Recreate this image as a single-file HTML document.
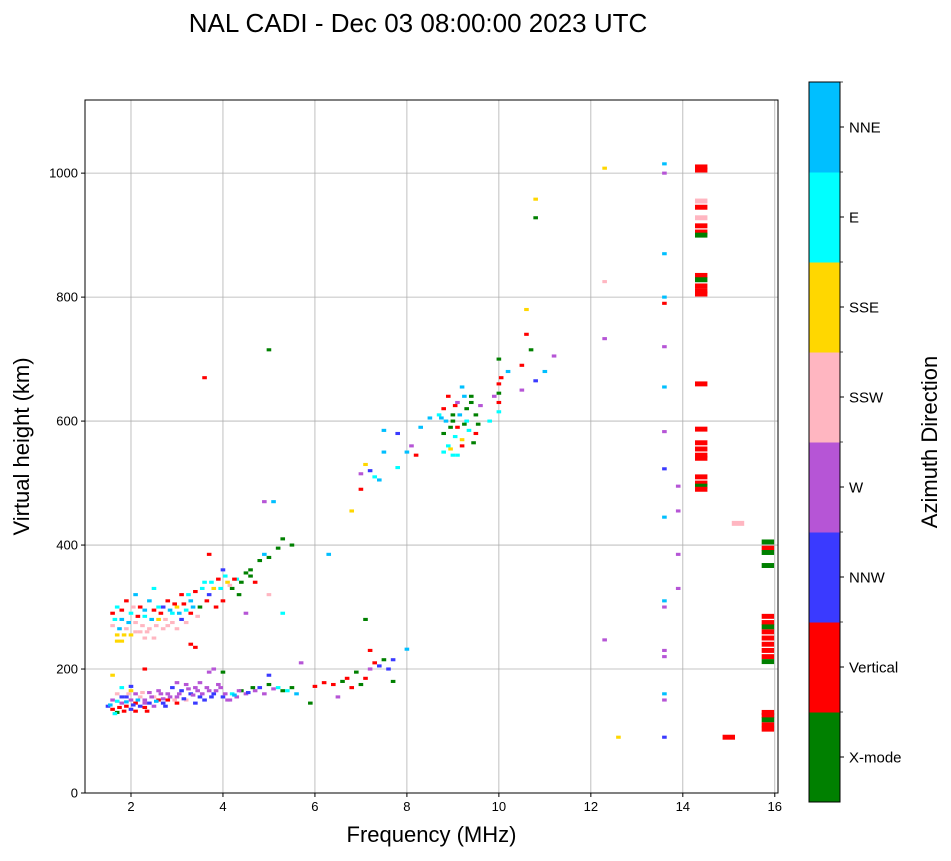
<!DOCTYPE html>
<html><head><meta charset="utf-8"><style>
body{margin:0;background:#fff;font-family:"Liberation Sans",sans-serif}
svg text{font-family:"Liberation Sans",sans-serif}
</style></head><body>
<svg id="chart" width="951" height="856" xmlns="http://www.w3.org/2000/svg"></svg>
<script>
const categories=["X-mode","Vertical","NNW","W","SSW","SSE","E","NNE"];
const colors=["#008000","#ff0000","#3a3aff","#b655d6","#ffb6c1","#ffd700","#00ffff","#00bfff"];
const xTicks=[2,4,6,8,10,12,14,16];
const yTicks=[0,200,400,600,800,1000];
const freqs=[1.5,1.6,1.6,1.7,1.7,1.8,1.8,1.9,1.9,2.0,2.0,2.0,2.1,2.1,2.2,2.2,2.3,2.3,2.4,2.4,2.5,2.5,2.6,2.6,2.7,2.8,2.8,2.9,3.0,3.0,3.1,3.2,3.2,3.3,3.4,3.5,3.5,3.6,3.7,3.8,3.9,4.0,4.1,4.2,4.3,4.4,4.5,4.7,4.8,5.0,5.0,5.2,5.3,5.5,5.7,5.9,6.0,6.2,6.4,6.5,6.6,6.7,6.8,6.9,7.0,7.1,7.2,7.3,7.4,7.5,7.6,7.7,7.7,7.2,7.1,1.6,2.3,3.8,4.0,
1.6,1.6,1.7,1.7,1.8,1.8,1.9,1.9,2.0,2.0,2.1,2.1,2.2,2.2,2.3,2.3,2.4,2.4,2.5,2.5,2.6,2.7,2.8,2.8,2.9,3.0,3.0,3.1,3.1,3.2,3.3,3.3,3.4,3.5,3.6,3.7,3.8,3.9,4.0,4.0,4.1,4.2,4.3,4.4,4.5,4.6,4.8,4.9,5.0,5.2,5.3,5.5,4.9,5.1,3.6,5.0,5.3,5.0,4.5,3.7,6.3,
6.8,7.0,7.0,7.1,7.2,7.3,7.4,7.5,7.5,7.8,7.8,8.0,8.1,8.3,8.2,8.5,8.7,8.8,8.9,8.8,8.9,9.0,9.0,9.1,9.1,9.2,9.2,9.3,9.3,9.4,9.5,9.5,9.6,9.8,9.9,10.0,10.0,10.0,10.2,10.5,10.5,10.6,10.6,10.7,10.8,11.0,11.2,10.8,10.8,8.0,8.8,9.0,
12.3,12.3,12.3,12.3,12.6,13.6,13.6,13.6,13.6,13.6,13.6,13.6,13.6,13.6,13.6,13.6,13.6,13.6,13.6,13.6,13.6,13.6,13.9,13.9,13.9,13.9,
14.4,14.4,14.4,14.4,14.4,14.4,14.4,14.4,14.4,14.4,14.4,14.4,14.4,14.4,14.4,14.4,14.4,14.4,14.4,14.4,14.4,14.4,14.4,
15.0,15.2,15.85,15.85,15.85,15.85,15.85,15.85,15.85,15.85,15.85,15.85,15.85,15.85,15.85,15.85,15.85,15.85,15.85,15.85,
1.55,1.65,1.7,1.75,1.8,1.85,1.9,1.95,2.05,2.1,2.15,2.25,2.3,2.35,2.45,2.55,2.65,2.7,2.75,2.85,2.95,3.05,3.15,3.25,3.35,3.4,3.45,3.55,3.65,3.75,3.85,3.95,4.05,4.15,4.25,4.35,4.55,4.65,4.9,5.1,5.4,5.6,2.0,3.0,3.7,
1.65,1.7,1.75,1.8,1.85,1.95,2.05,2.1,2.15,2.25,2.3,2.35,2.45,2.55,2.6,2.65,2.75,2.85,2.9,2.95,3.05,3.15,3.2,3.25,3.3,3.35,3.45,3.55,3.65,3.75,3.85,3.95,4.05,4.15,4.25,4.35,4.6,4.7,2.5,2.7,3.4,
8.85,8.95,9.05,9.15,9.25,9.35,9.45,9.05,9.25,8.95,9.1,9.2,9.4,9.55,8.75,10.0,10.0,10.05];
const heights=[140,150,135,160,130,145,170,155,140,150,165,135,145,160,140,155,150,138,162,145,155,140,150,165,145,160,150,170,155,145,165,175,150,160,170,155,178,150,165,160,175,155,150,160,155,165,160,165,170,175,190,170,165,170,210,145,172,178,175,155,180,185,170,195,175,185,200,210,205,215,200,215,180,230,280,190,200,200,195,
270,290,255,300,280,245,265,310,290,255,275,320,300,260,285,250,310,265,295,330,280,300,270,310,290,265,300,320,280,295,240,310,325,300,340,320,330,345,310,360,340,330,345,340,355,360,375,385,380,395,410,400,470,470,670,715,290,320,290,385,385,
455,490,515,530,520,510,505,550,585,580,525,550,560,590,545,605,610,620,640,580,560,600,545,630,590,655,570,620,600,640,580,610,625,600,640,660,615,700,680,650,690,740,780,715,665,680,705,958,928,232,550,610,
1008,825,733,247,90,1015,1000,870,800,790,720,655,583,523,445,310,300,230,220,160,150,90,495,455,385,330,
1005,1010,945,955,928,915,905,900,835,828,818,810,805,660,587,565,555,545,540,510,500,495,490,
90,435,405,395,388,367,285,275,268,260,250,240,230,220,212,130,125,118,110,103,
142,128,148,138,155,132,147,160,142,132,150,162,145,132,155,148,160,152,140,155,150,160,152,168,158,145,165,160,170,155,165,170,160,150,158,165,162,170,160,168,165,160,172,178,195,
280,245,265,295,255,275,300,260,285,270,295,260,280,270,300,290,280,295,275,305,290,305,275,320,290,300,285,330,310,340,300,330,350,335,345,320,350,340,250,265,235,
600,590,575,610,595,585,565,625,640,555,545,560,630,595,605,630,645,670];
const dirs=[2,3,1,4,0,3,6,2,1,3,5,2,1,3,2,4,3,1,3,2,4,3,1,3,2,3,1,2,3,1,2,3,4,2,3,2,3,2,3,2,3,2,3,6,3,0,3,3,2,0,2,6,0,0,3,0,1,1,1,3,0,1,1,0,0,1,3,1,2,0,2,2,0,1,0,5,1,3,0,
4,1,5,6,7,5,4,1,6,5,4,7,1,4,6,4,7,4,1,6,5,2,4,1,6,4,5,1,2,6,1,7,1,0,6,2,5,1,1,2,5,0,6,0,0,0,0,7,0,0,0,0,3,7,1,0,6,4,3,1,7,
5,1,3,5,2,6,7,7,7,2,6,7,3,7,1,7,6,1,1,0,6,0,6,3,1,7,5,0,6,0,1,0,3,6,3,1,6,0,7,3,1,1,5,0,2,7,3,5,0,7,6,0,
5,4,3,3,5,7,3,7,7,1,3,7,3,2,7,7,3,3,3,7,3,2,3,3,3,3,
1,1,1,4,4,1,1,0,1,0,1,1,1,1,1,1,1,1,1,1,1,0,1,
1,4,0,1,0,0,1,1,0,1,1,1,1,1,0,1,1,0,1,1,
7,6,6,1,2,1,7,4,2,1,7,4,3,1,3,7,3,3,2,3,4,3,2,3,3,2,3,3,3,2,3,3,3,3,7,3,2,0,3,3,6,7,2,3,3,
6,5,7,1,5,7,4,4,1,4,7,4,7,4,6,1,4,7,4,1,7,1,4,6,1,7,4,6,1,6,1,6,6,4,1,0,0,1,4,4,1,
7,0,6,7,0,6,0,1,7,5,6,1,0,0,7,1,0,1];
const svg=document.getElementById('chart');
const NS="http://www.w3.org/2000/svg";
const L=85,R=778,T=100,B=793,X0=1,X1=16.07,Y0=0,Y1=1118;
const xs=v=>L+(v-X0)/(X1-X0)*(R-L);
const ys=v=>B-(v-Y0)/(Y1-Y0)*(B-T);
function mk(tag,attrs,parent){const e=document.createElementNS(NS,tag);for(const k in attrs)e.setAttribute(k,attrs[k]);(parent||svg).appendChild(e);return e;}
let t=mk('text',{x:418,y:32,'font-size':26,'text-anchor':'middle'});t.textContent="NAL CADI - Dec 03 08:00:00 2023 UTC";


const plot=mk('g',{});


xTicks.forEach(v=>{const x=xs(v);
 const g=mk('line',{x1:x,x2:x,y1:T,y2:B,stroke:'#b0b0b0','stroke-width':0.8},plot);
 
 
 mk('line',{x1:x,x2:x,y1:B,y2:B+4,stroke:'#000'});
 const tx=mk('text',{x:x,y:B+18,'font-size':13,'text-anchor':'middle'});tx.textContent=v;
 
 });
yTicks.forEach(v=>{const y=ys(v);
 const g=mk('line',{x1:L,x2:R,y1:y,y2:y,stroke:'#b0b0b0','stroke-width':0.8},plot);
 
 
 mk('line',{x1:L-4,x2:L,y1:y,y2:y,stroke:'#000'});
 const tx=mk('text',{x:L-7,y:y+4.5,'font-size':13,'text-anchor':'end'});tx.textContent=v;
 
 });
for(let i=0;i<freqs.length;i++){
 const f=freqs[i],w=f>=14?0.27:0.1,hh=f>=14?8:5;
 const x=xs(f-w/2),x2=xs(f+w/2),y=ys(heights[i]+hh/2),y2=ys(heights[i]-hh/2);
 const r=mk('rect',{x:x,y:y,width:x2-x,height:y2-y,fill:colors[dirs[i]]},plot);
 
 
}
const fr=mk('rect',{x:L,y:T,width:R-L,height:B-T,fill:'none',stroke:'#000','stroke-width':1});


let xl=mk('text',{x:(L+R)/2,y:842,'font-size':22,'text-anchor':'middle'});xl.textContent="Frequency (MHz)";


let yl=mk('text',{x:0,y:0,'font-size':22,'text-anchor':'middle',transform:`translate(29,${(T+B)/2}) rotate(-90)`});yl.textContent="Virtual height (km)";


const cb=mk('g',{});


const CT=82,CB=802,CL=809,CW=31,seg=(CB-CT)/categories.length;
categories.forEach((c,i)=>{const y=CB-(i+1)*seg;
 const r=mk('rect',{x:CL,y:y,width:CW,height:seg+0.5,fill:colors[i]},cb);
 
 
 mk('line',{x1:CL+CW,x2:CL+CW+4,y1:y+seg/2,y2:y+seg/2,stroke:'#000'},cb);
 mk('line',{x1:CL+CW,x2:CL+CW+3,y1:y,y2:y,stroke:'#000','stroke-width':0.7},cb);
 const tx=mk('text',{x:CL+CW+9,y:y+seg/2+5.5,'font-size':15},cb);tx.textContent=c;
 
 });
mk('rect',{x:CL,y:CT,width:CW,height:CB-CT,fill:'none',stroke:'#000','stroke-width':1},cb);
let cl=mk('text',{x:0,y:0,'font-size':22,'text-anchor':'middle',transform:`translate(937,${(CT+CB)/2}) rotate(-90)`});cl.textContent="Azimuth Direction";


</script>
</body></html>
